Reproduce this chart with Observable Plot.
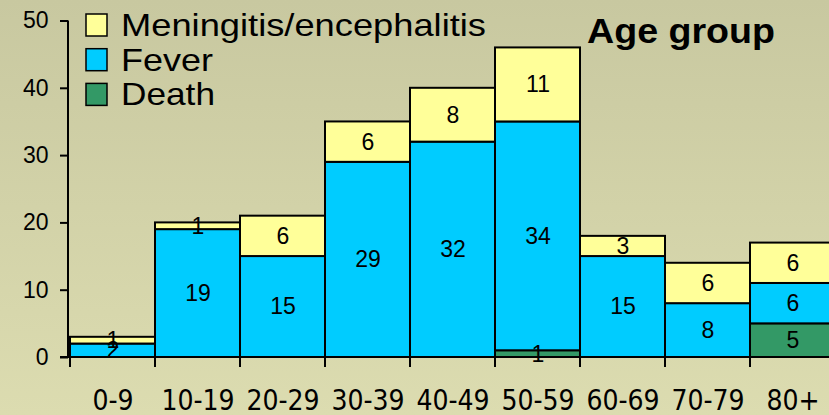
<!DOCTYPE html>
<html><head><meta charset="utf-8">
<script src="https://cdn.jsdelivr.net/npm/d3@7"></script>
<script src="https://cdn.jsdelivr.net/npm/@observablehq/plot@0.6"></script>
<style>
html,body{margin:0;padding:0;overflow:hidden;width:829px;height:415px;background:linear-gradient(to bottom,#c8c8a0,#dcdcb0);}
#chart svg{display:block;}
g[aria-label="x-axis tick label"]{font-family:"Liberation Sans Narrow","Arial Narrow","DejaVu Sans Condensed",sans-serif;font-size:28px;}
g[aria-label="y-axis tick label"]{font-size:23px;}
g[aria-label="y-axis tick"]{stroke-width:2px;}
</style></head><body><div id="chart"></div>
<script>
const ageGroups = ["0-9","10-19","20-29","30-39","40-49","50-59","60-69","70-79","80+"];
const meningitis = [1,1,6,6,8,11,3,6,6];
const fever = [2,19,15,29,32,34,15,8,6];
const death = [0,0,0,0,0,1,0,0,5];
const seriesNames = ["Death","Fever","Meningitis/encephalitis"];
const seriesColors = ["#339966","#00ccff","#ffff99"];
const legendOrder = ["Meningitis/encephalitis","Fever","Death"];
const yTicks = [0,10,20,30,40,50];
const title = "Age group";

const seriesValues = {"Death": death, "Fever": fever, "Meningitis/encephalitis": meningitis};
const rows = [];
ageGroups.forEach((a,i)=>{
  seriesNames.forEach(s=>{ const v = seriesValues[s][i]; if (v>0) rows.push({age:a, series:s, value:v}); });
});

const W = 829, H = 415;
const plot = Plot.plot({
  width: W, height: H,
  marginLeft: 68, marginRight: 0, marginTop: 20.5, marginBottom: 58,
  style: {background:"transparent", fontFamily:"'Liberation Sans', Arial, sans-serif", fontSize:"22px", color:"#000", overflow:"hidden"},
  x: {domain: ageGroups, range:[68, 837], padding:0, label:null, tickSize:0, tickPadding:33},
  y: {domain:[0,50], label:null, ticks: yTicks, tickSize:8, tickPadding:12, tickFormat: d=>String(d)},
  color: {domain: seriesNames, range: seriesColors},
  marks: [
    Plot.barY(rows, {x:"age", y:"value", z:"series", fill:"series", order: seriesNames, stroke:"#000", strokeWidth:2, inset:0}),
    Plot.text(rows, Plot.stackY({x:"age", y:"value", z:"series", order: seriesNames, text: d=>String(d.value), fill:"#000", fontSize:23}))
  ]
});
document.getElementById("chart").appendChild(plot);

const svg = d3.select(plot);
const xs = plot.scale("x"), ys = plot.scale("y");
const y0 = ys.apply(0), yTop = ys.apply(50);
const deco = svg.append("g").attr("stroke","#000").attr("stroke-width",2);
deco.append("line").attr("x1",60).attr("x2",W).attr("y1",y0).attr("y2",y0);
deco.append("line").attr("x1",68).attr("x2",68).attr("y1",y0).attr("y2",yTop);
ageGroups.forEach(a=>{
  const bx = xs.apply(a);
  deco.append("line").attr("x1",bx).attr("x2",bx).attr("y1",y0).attr("y2",y0+10);
});

const colorOf = Object.fromEntries(seriesNames.map((s,i)=>[s,seriesColors[i]]));
const leg = svg.append("g").attr("font-family","'Liberation Sans', Arial, sans-serif").attr("font-size",32).attr("text-anchor","start");
const legendWidths = {"Meningitis/encephalitis":365, "Fever":92, "Death":94};
legendOrder.forEach((s,i)=>{
  const top = 14 + i*34.7;
  leg.append("rect").attr("x",86).attr("y",top).attr("width",21).attr("height",22)
    .attr("fill",colorOf[s]).attr("stroke","#000").attr("stroke-width",1.5);
  leg.append("text").attr("x",121).attr("y",top+22).attr("fill","#000")
    .attr("textLength",legendWidths[s]).attr("lengthAdjust","spacingAndGlyphs").text(s);
});
svg.append("text").attr("x",587).attr("y",43).attr("font-family","'Liberation Sans', Arial, sans-serif")
  .attr("font-size",35).attr("font-weight","bold").attr("text-anchor","start").attr("fill","#000")
  .attr("textLength",188).attr("lengthAdjust","spacingAndGlyphs").text(title);
</script></body></html>
